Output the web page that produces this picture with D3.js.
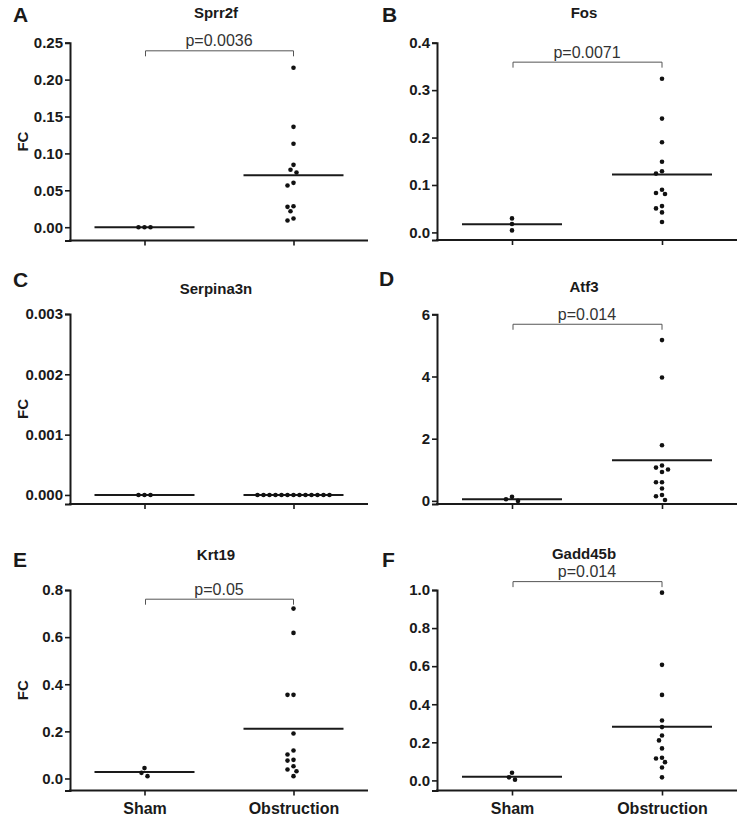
<!DOCTYPE html>
<html>
<head>
<meta charset="utf-8">
<script src="https://cdn.jsdelivr.net/npm/d3@7"></script>
<style>
  html, body { margin: 0; padding: 0; background: #fff; }
  svg { display: block; }
  text { font-family: "Liberation Sans", Arial, Helvetica, sans-serif; }
</style>
</head>
<body>
<svg id="chart" width="738" height="820"></svg>
<script>
// ---------------- DATA ----------------
const categories = ["Sham", "Obstruction"];
const genes = ["Sprr2f", "Fos", "Serpina3n", "Atf3", "Krt19", "Gadd45b"];
const panelLetters = ["A", "B", "C", "D", "E", "F"];
const pValues = ["p=0.0036", "p=0.0071", null, "p=0.014", "p=0.05", "p=0.014"];

const sprr2fSham = [0, 0, 0];
const sprr2fObstruction = [0.216, 0.136, 0.113, 0.0845, 0.0778, 0.0741, 0.0601, 0.0565, 0.0285, 0.0276, 0.0217, 0.0118, 0.009];
const fosSham = [0.0295, 0.0176, 0.0042];
const fosObstruction = [0.324, 0.240, 0.190, 0.149, 0.129, 0.124, 0.090, 0.083, 0.081, 0.0555, 0.0506, 0.0422, 0.0218];
const serpina3nSham = [0, 0, 0];
const serpina3nObstruction = [0, 0, 0, 0, 0, 0, 0, 0, 0, 0, 0, 0, 0];
const atf3Sham = [0.13, 0.055, 0.0];
const atf3Obstruction = [5.17, 3.97, 1.79, 1.14, 1.07, 1.01, 0.93, 0.60, 0.60, 0.40, 0.19, 0.15, 0.03];
const krt19Sham = [0.044, 0.024, 0.010];
const krt19Obstruction = [0.721, 0.618, 0.355, 0.355, 0.191, 0.119, 0.102, 0.079, 0.076, 0.052, 0.038, 0.031, 0.010];
const gadd45bSham = [0.040, 0.016, 0.004];
const gadd45bObstruction = [0.986, 0.607, 0.449, 0.315, 0.280, 0.236, 0.210, 0.168, 0.119, 0.115, 0.096, 0.068, 0.016];

// mean lines [Sham, Obstruction]
const meanSprr2f = [0, 0.0705];
const meanFos = [0.017, 0.122];
const meanSerpina3n = [0, 0];
const meanAtf3 = [0.055, 1.31];
const meanKrt19 = [0.027, 0.211];
const meanGadd45b = [0.019, 0.282];

// y-axis ticks
const ticksSprr2f = [0, 0.05, 0.10, 0.15, 0.20, 0.25];
const ticksFos = [0, 0.1, 0.2, 0.3, 0.4];
const ticksSerpina3n = [0, 0.001, 0.002, 0.003];
const ticksAtf3 = [0, 2, 4, 6];
const ticksKrt19 = [0, 0.2, 0.4, 0.6, 0.8];
const ticksGadd45b = [0, 0.2, 0.4, 0.6, 0.8, 1.0];
const tickFormats = [".2f", ".1f", ".3f", "d", ".1f", ".1f"];

// y-axis domains (lower end below zero as in the original)
const yDomains = [[-0.018, 0.25], [-0.016, 0.4], [-0.00015, 0.003], [-0.1, 6], [-0.051, 0.8], [-0.053, 1.0]];
// bracket level in data units
const bracketLevels = [0.239, 0.359, null, 5.68, 0.761, 1.044];

const seriesSham = [sprr2fSham, fosSham, serpina3nSham, atf3Sham, krt19Sham, gadd45bSham];
const seriesObs = [sprr2fObstruction, fosObstruction, serpina3nObstruction, atf3Obstruction, krt19Obstruction, gadd45bObstruction];
const means = [meanSprr2f, meanFos, meanSerpina3n, meanAtf3, meanKrt19, meanGadd45b];
const tickSets = [ticksSprr2f, ticksFos, ticksSerpina3n, ticksAtf3, ticksKrt19, ticksGadd45b];

// ---------------- LAYOUT ----------------
const layout = [
  {x0: 70,  x1: 368, yBottom: 240.5, yTop: 42.7,  titleY: 18,  letterX: 13,  letterY: 22},
  {x0: 437, x1: 737, yBottom: 240,   yTop: 42.7,  titleY: 18,  letterX: 382, letterY: 22},
  {x0: 70,  x1: 368, yBottom: 504,   yTop: 314,   titleY: 294, letterX: 13,  letterY: 287},
  {x0: 437, x1: 737, yBottom: 504,   yTop: 314.3, titleY: 292, letterX: 379, letterY: 286},
  {x0: 70,  x1: 368, yBottom: 790.5, yTop: 590,   titleY: 560, letterX: 13,  letterY: 567},
  {x0: 437, x1: 737, yBottom: 790.5, yTop: 590,   titleY: 559, letterX: 382, letterY: 567}
];
const ink = "#1a1a1a";

const svg = d3.select("#chart");

function swarm(values, y, cx) {
  const pts = values.map((v, i) => ({v, i, y: y(v)})).sort((a, b) => a.y - b.y);
  const placed = [];
  const minD = 5.2;
  pts.forEach(p => {
    for (let k = 0; k < 60; k++) {
      const off = k === 0 ? 0 : (k % 2 === 1 ? -1 : 1) * Math.ceil(k / 2) * 3;
      const ok = placed.every(q => Math.hypot(q.dx - off, q.y - p.y) >= minD);
      if (ok) { p.dx = off; placed.push(p); break; }
    }
  });
  return placed.map(p => ({v: p.v, x: cx + p.dx, y: p.y}));
}

genes.forEach((gene, i) => {
  const L = layout[i];
  const g = svg.append("g");
  const x = d3.scalePoint().domain(categories).range([L.x0, L.x1]).padding(0.5);
  const y = d3.scaleLinear().domain(yDomains[i]).range([L.yBottom, L.yTop]);

  // y axis
  const yAxis = d3.axisLeft(y).tickValues(tickSets[i]).tickFormat(d3.format(tickFormats[i]))
    .tickSizeOuter(0).tickSize(5).tickPadding(2);
  const ya = g.append("g").attr("transform", `translate(${L.x0},0)`).call(yAxis);
  ya.select(".domain").attr("stroke", ink).attr("stroke-width", 2);
  ya.selectAll(".tick line").attr("stroke", ink).attr("stroke-width", 1.6);
  ya.selectAll(".tick text").attr("fill", ink).attr("font-size", 15).attr("font-weight", "bold")
    .attr("font-family", "Liberation Sans, Arial, sans-serif");

  // x axis
  const bottomRow = i >= 4;
  const xAxis = d3.axisBottom(x).tickSizeOuter(0).tickSize(5).tickPadding(7);
  const xa = g.append("g").attr("transform", `translate(0,${L.yBottom})`).call(xAxis);
  xa.select(".domain").attr("stroke", ink).attr("stroke-width", 2)
    .attr("d", `M${L.x0 - 1},0H${L.x1}`);
  xa.selectAll(".tick line").attr("stroke", ink).attr("stroke-width", 1.6);
  xa.selectAll(".tick text").attr("fill", ink).attr("font-size", 16).attr("font-weight", "bold")
    .attr("font-family", "Liberation Sans, Arial, sans-serif")
    .style("display", bottomRow ? null : "none");

  // FC label for left column
  if (i % 2 === 0) {
    g.append("text")
      .attr("transform", `translate(28,${(L.yTop + L.yBottom) / 2}) rotate(-90)`)
      .attr("text-anchor", "middle")
      .attr("font-size", 15).attr("font-weight", "bold").attr("fill", ink)
      .text("FC");
  }

  // panel letter
  g.append("text").attr("x", L.letterX).attr("y", L.letterY)
    .attr("font-size", 21).attr("font-weight", "bold").attr("fill", ink)
    .text(panelLetters[i]);

  // title
  const midX = (x(categories[0]) + x(categories[1])) / 2;
  g.append("text").attr("x", midX - 3).attr("y", L.titleY)
    .attr("text-anchor", "middle").attr("font-size", 15).attr("font-weight", "bold").attr("fill", ink)
    .text(gene);

  // bracket + p value
  if (pValues[i]) {
    const by = y(bracketLevels[i]);
    const xa0 = x(categories[0]) + 1, xa1 = x(categories[1]);
    g.append("path")
      .attr("d", `M${xa0},${by + 5.5}V${by}H${xa1}V${by + 5.5}`)
      .attr("fill", "none").attr("stroke", "#555").attr("stroke-width", 1);
    g.append("text").attr("x", midX).attr("y", by - 4.5)
      .attr("text-anchor", "middle").attr("font-size", 16).attr("fill", "#333")
      .text(pValues[i]);
  }

  // mean lines
  categories.forEach((c, j) => {
    g.append("line")
      .attr("x1", x(c) - 50).attr("x2", x(c) + 50)
      .attr("y1", y(means[i][j])).attr("y2", y(means[i][j]))
      .attr("stroke", ink).attr("stroke-width", 2);
  });

  // dots
  [seriesSham[i], seriesObs[i]].forEach((vals, j) => {
    const pts = swarm(vals, y, x(categories[j]));
    g.append("g").selectAll("circle").data(pts).join("circle")
      .attr("cx", d => d.x).attr("cy", d => d.y).attr("r", 2.3)
      .attr("fill", "#111");
  });
});
</script>
</body>
</html>
